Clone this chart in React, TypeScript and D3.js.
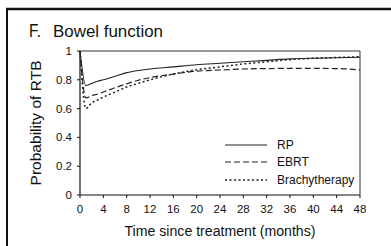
import React from "react";
import * as d3 from "d3";

const months = [0, 1, 2, 3, 4, 6, 8, 10, 12, 16, 20, 24, 28, 32, 36, 40, 44, 48];
const rpValues = [1.0, 0.76, 0.775, 0.79, 0.8, 0.825, 0.85, 0.865, 0.875, 0.89, 0.905, 0.915, 0.925, 0.935, 0.945, 0.95, 0.953, 0.957];
const ebrtValues = [1.0, 0.675, 0.69, 0.7, 0.715, 0.745, 0.772, 0.797, 0.815, 0.84, 0.86, 0.868, 0.875, 0.878, 0.879, 0.879, 0.878, 0.868];
const brachyValues = [1.0, 0.6, 0.64, 0.66, 0.68, 0.715, 0.75, 0.775, 0.8, 0.84, 0.87, 0.89, 0.91, 0.925, 0.94, 0.95, 0.955, 0.96];
const xTicks = [0, 4, 8, 12, 16, 20, 24, 28, 32, 36, 40, 44, 48];
const yTicks = [0, 0.2, 0.4, 0.6, 0.8, 1];
const seriesNames = ["RP", "EBRT", "Brachytherapy"];

const FONT = "'Liberation Sans', Arial, sans-serif";

export default function App() {
  const W = 391, H = 246;
  const left = 80, right = 360, top = 51, bottom = 195;
  const x = d3.scaleLinear().domain([0, 48]).range([left, right]);
  const y = d3.scaleLinear().domain([0, 1]).range([bottom, top]);
  const line = d3.line<number>()
    .x((_, i) => x(months[i]))
    .y((d) => y(d))
    .curve(d3.curveMonotoneX);
  const series = [
    { name: seriesNames[0], values: rpValues, dash: "none", w: 1.1 },
    { name: seriesNames[1], values: ebrtValues, dash: "6,3", w: 1.2 },
    { name: seriesNames[2], values: brachyValues, dash: "2,2.5", w: 1.5 },
  ];
  const legendY = [145, 162, 180];
  return (
    <svg width={W} height={H} style={{ position: "absolute", left: 0, top: 0 }} fontFamily={FONT}>
      <rect x={0} y={0} width={W} height={H} fill="#fff" />
      {/* frame */}
      <line x1={6} x2={W} y1={9} y2={9} stroke="#111" strokeWidth={2.5} />
      <line x1={7} x2={7} y1={8} y2={H} stroke="#111" strokeWidth={2} />
      {/* title */}
      <text x={29} y={37} fontSize={19} fill="#111" textLength={12} lengthAdjust="spacingAndGlyphs">F.</text>
      <text x={53} y={37} fontSize={16} fill="#111" textLength={110} lengthAdjust="spacingAndGlyphs">Bowel function</text>
      {/* plot box */}
      <line x1={left} x2={right} y1={top} y2={top} stroke="#333" strokeWidth={1} />
      <line x1={right} x2={right} y1={top} y2={bottom} stroke="#333" strokeWidth={1} />
      <line x1={left} x2={right} y1={bottom} y2={bottom} stroke="#111" strokeWidth={1.2} />
      <line x1={left} x2={left} y1={top} y2={bottom} stroke="#111" strokeWidth={1.2} />
      {xTicks.map((t) => (
        <g key={"x" + t}>
          <line x1={x(t)} x2={x(t)} y1={bottom} y2={bottom + 3} stroke="#111" />
          <text x={x(t)} y={213} fontSize={11.5} textAnchor="middle" fill="#111">{t}</text>
        </g>
      ))}
      {yTicks.map((t) => (
        <g key={"y" + t}>
          <line x1={left - 3} x2={left} y1={y(t)} y2={y(t)} stroke="#111" />
          <text x={72} y={y(t) + 4} fontSize={11.5} textAnchor="end" fill="#111">{t}</text>
        </g>
      ))}
      <text x={220} y={236} fontSize={14} textAnchor="middle" fill="#111" textLength={191} lengthAdjust="spacingAndGlyphs">Time since treatment (months)</text>
      <text transform={`translate(41,${(top + bottom) / 2}) rotate(-90)`} fontSize={14} textAnchor="middle" fill="#111" textLength={125} lengthAdjust="spacingAndGlyphs">Probability of RTB</text>
      {series.map((s) => (
        <path key={s.name} d={line(s.values) || ""} fill="none" stroke="#222" strokeWidth={s.w} strokeDasharray={s.dash} />
      ))}
      {series.map((s, i) => (
        <g key={"lg" + s.name}>
          <line x1={225} x2={267} y1={legendY[i]} y2={legendY[i]} stroke="#222" strokeWidth={s.w} strokeDasharray={s.dash} />
          <text x={277} y={legendY[i] + 4} fontSize={12} fill="#111">{s.name}</text>
        </g>
      ))}
    </svg>
  );
}
